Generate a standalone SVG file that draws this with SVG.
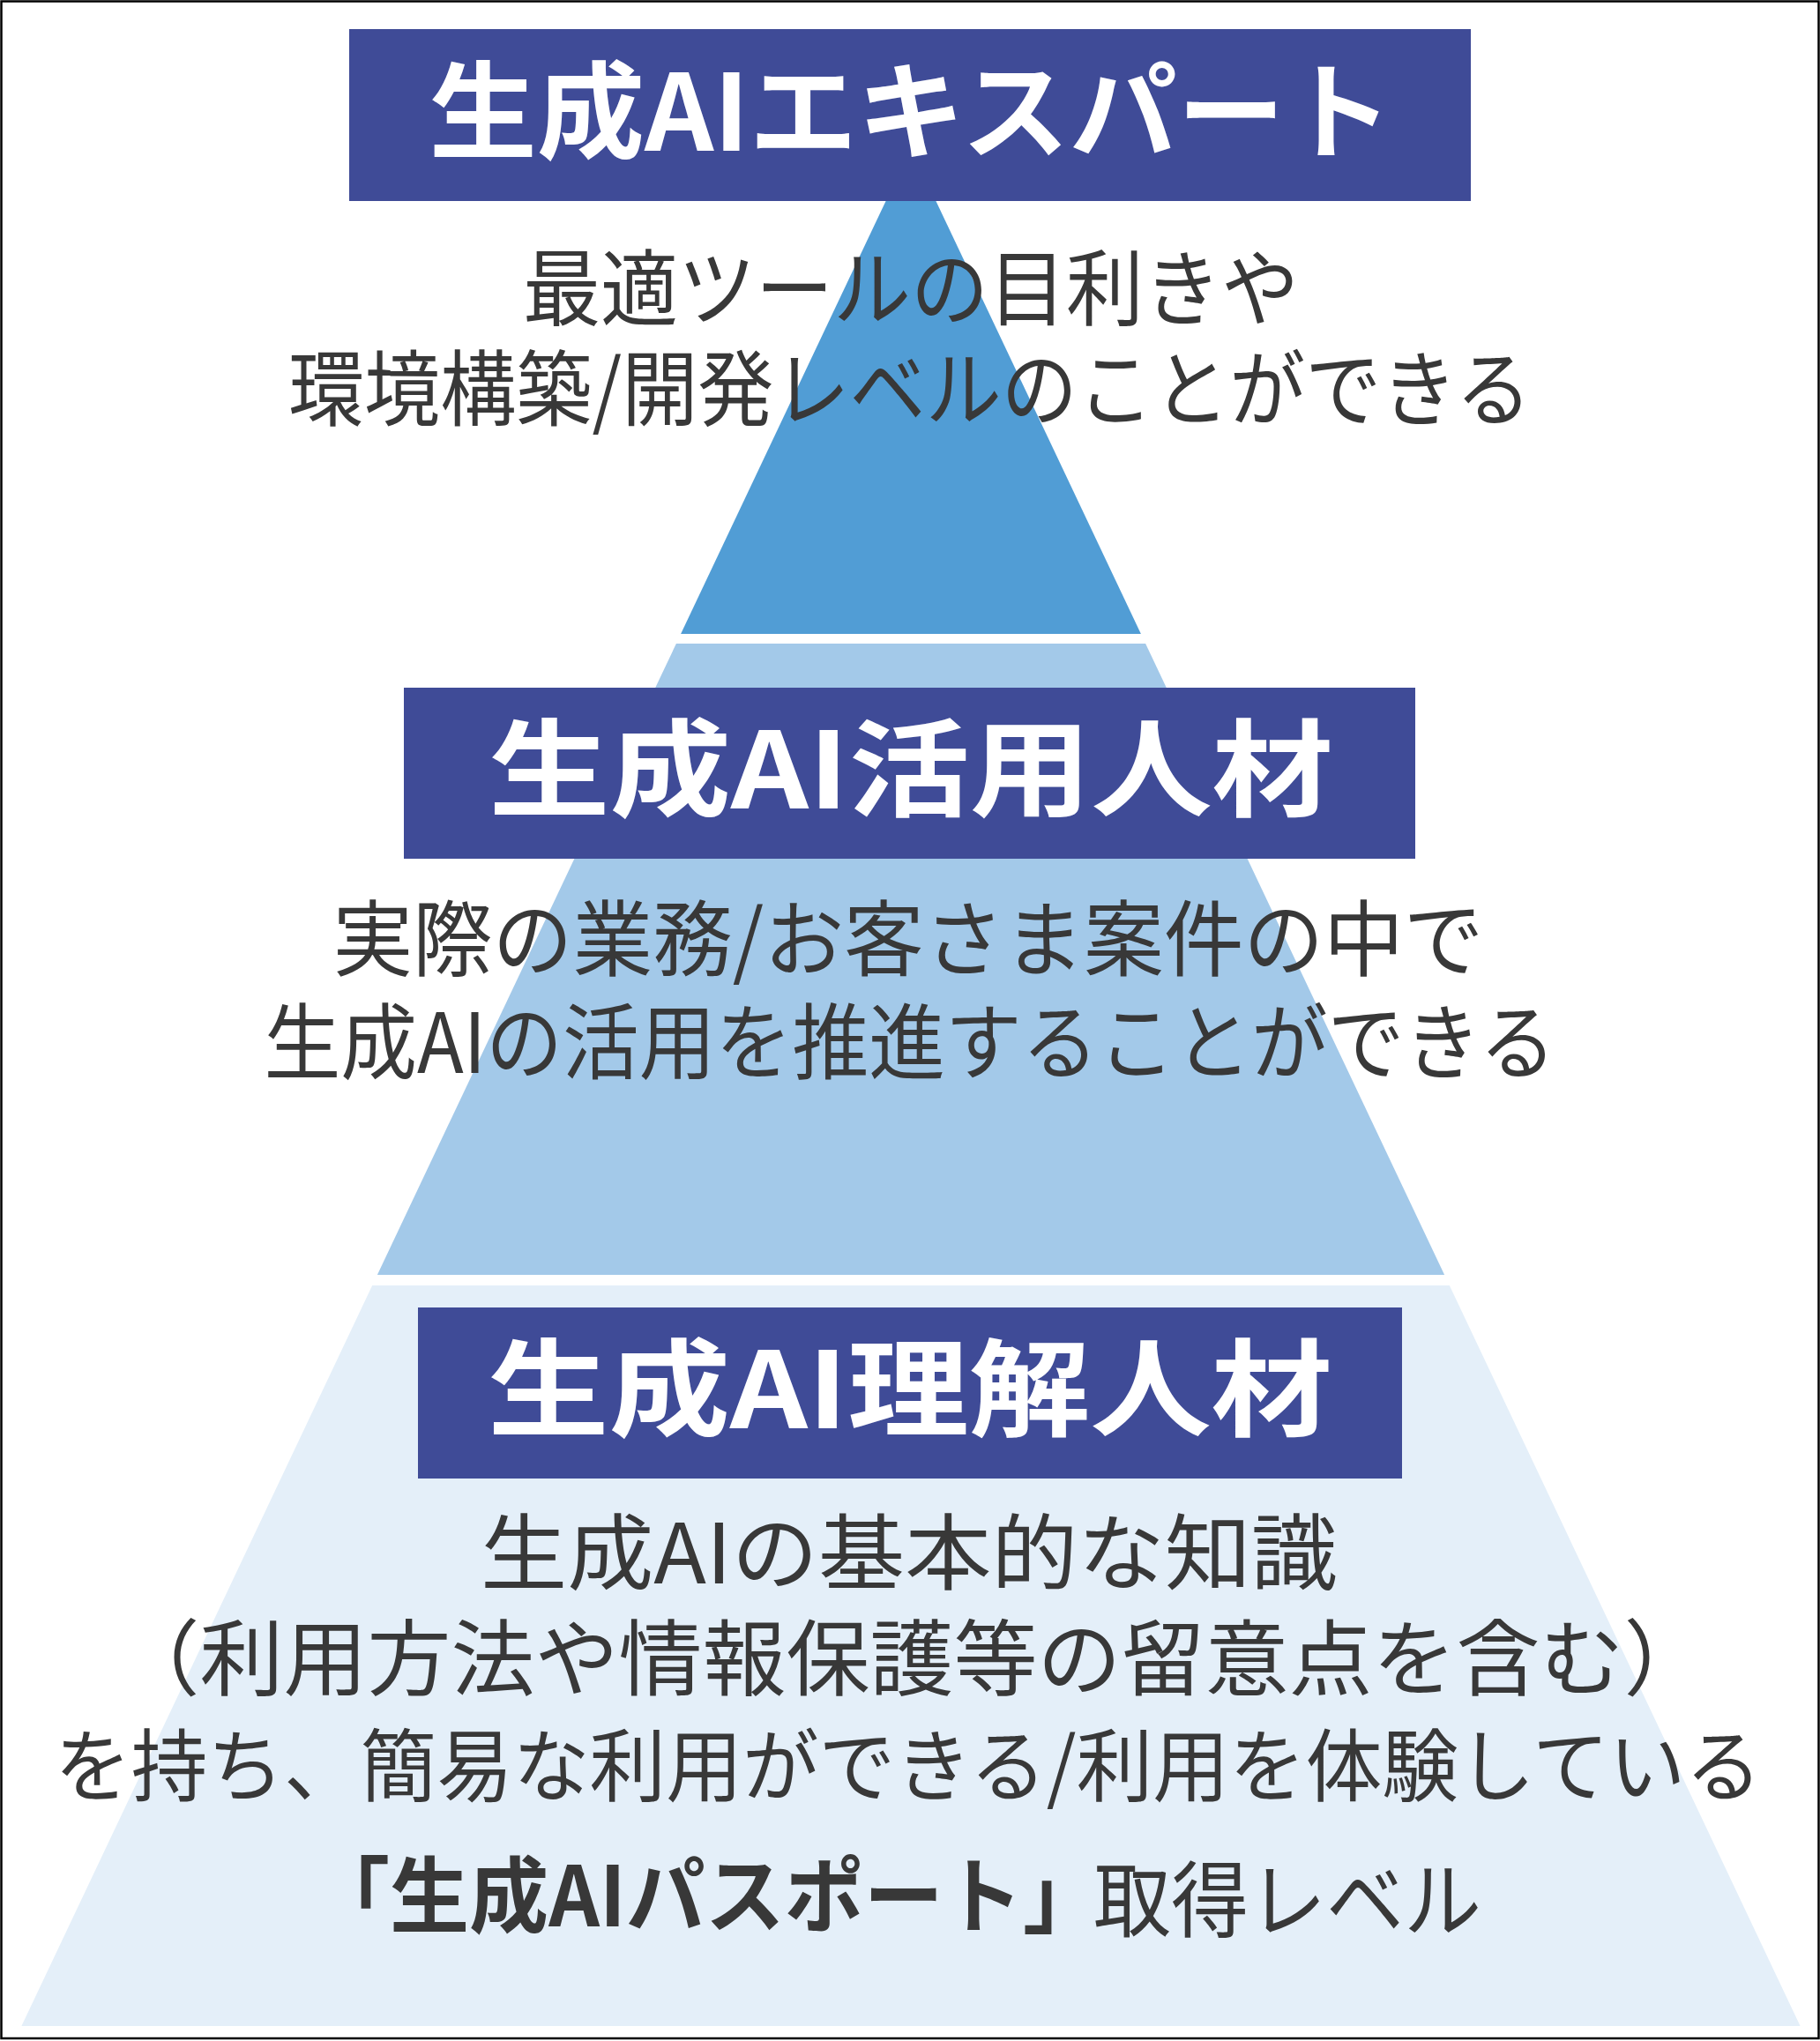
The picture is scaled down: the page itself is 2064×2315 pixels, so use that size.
<svg xmlns="http://www.w3.org/2000/svg" width="2064" height="2315" viewBox="0 0 2064 2315">
<style>
.title{font-family:"Noto Sans CJK JP","Noto Sans CJK SC",sans-serif;font-weight:700;font-size:120px;fill:#ffffff;text-anchor:middle}
.desc{font-family:"Noto Sans CJK JP","Noto Sans CJK SC",sans-serif;font-weight:400;font-size:94px;fill:#383838;text-anchor:middle}
.bold{font-weight:700}
.box{fill:#3F4B97}
</style>
<rect x="0" y="0" width="2064" height="2315" fill="#ffffff"/>
<g id="tiers">
<polygon id="tier-top" points="1033,168 1293.9,719 772.1,719" fill="#519DD5"/>
<polygon id="tier-mid" points="766.9,730 1299.1,730 1638.1,1446 427.9,1446" fill="#A3C9E9"/>
<polygon id="tier-bottom" points="422.2,1458 1643.8,1458 2041.6,2298 24.4,2298" fill="#E4EFF9"/>
</g>
<g id="node-expert">
<rect class="box" x="396" y="33" width="1272" height="195"/>
<text class="title" x="1033" y="171" textLength="1093" lengthAdjust="spacingAndGlyphs">生成AIエキスパート</text>
<text class="desc" x="1033" y="362" textLength="880" lengthAdjust="spacingAndGlyphs">最適ツールの目利きや</text>
<text class="desc" x="1032" y="476" textLength="1410" lengthAdjust="spacingAndGlyphs">環境構築/開発レベルのことができる</text>
</g>
<g id="node-practitioner">
<rect class="box" x="458" y="780" width="1147" height="194"/>
<text class="title" x="1033" y="917" textLength="958" lengthAdjust="spacingAndGlyphs">生成AI活用人材</text>
<text class="desc" x="1030" y="1100" textLength="1305" lengthAdjust="spacingAndGlyphs">実際の業務/お客さま案件の中で</text>
<text class="desc" x="1032" y="1217" textLength="1465" lengthAdjust="spacingAndGlyphs">生成AIの活用を推進することができる</text>
</g>
<g id="node-understanding">
<rect class="box" x="474" y="1483" width="1116" height="194"/>
<text class="title" x="1032" y="1620" textLength="958" lengthAdjust="spacingAndGlyphs">生成AI理解人材</text>
<text class="desc" x="1031" y="1796" textLength="972" lengthAdjust="spacingAndGlyphs">生成AIの基本的な知識</text>
<text class="desc" x="1034" y="1916" textLength="1805" lengthAdjust="spacingAndGlyphs">（利用方法や情報保護等の留意点を含む）</text>
<text class="desc" x="1030" y="2036" style="font-size:90px" textLength="1936" lengthAdjust="spacingAndGlyphs">を持ち、簡易な利用ができる/利用を体験している</text>
<text class="desc bold" x="1250" y="2185" style="text-anchor:end" textLength="898" lengthAdjust="spacingAndGlyphs">「生成AIパスポート」</text>
<text class="desc" x="1240" y="2190" style="text-anchor:start" textLength="440" lengthAdjust="spacingAndGlyphs">取得レベル</text>
</g>
<g id="connectors"></g>
<rect x="1.5" y="1.5" width="2061" height="2310.5" fill="none" stroke="#000000" stroke-width="2.5"/>
</svg>
